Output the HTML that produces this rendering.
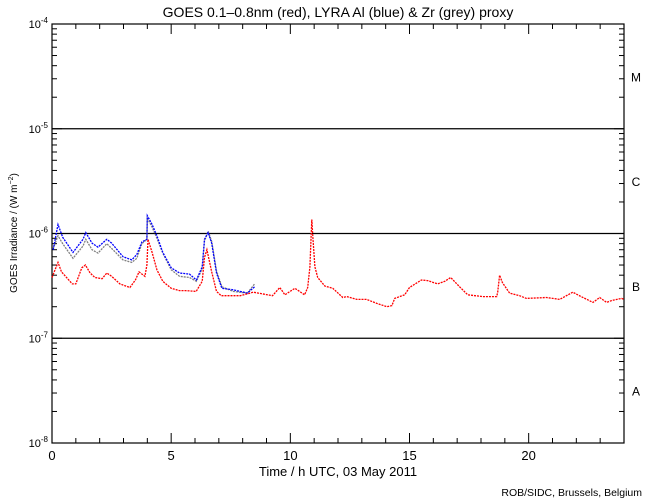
<!DOCTYPE html>
<html><head><meta charset="utf-8"><style>
body{margin:0;background:#fff}
svg{display:block;font-family:"Liberation Sans",sans-serif}
</style></head><body>
<svg id="c" width="650" height="500" viewBox="0 0 650 500">
<rect width="650" height="500" fill="#fff"/>
<text x="338" y="17" font-size="14" text-anchor="middle">GOES 0.1–0.8nm (red), LYRA Al (blue) &amp; Zr (grey) proxy</text>
<g id="axes"></g>
<g id="series"></g>
<text transform="translate(17,233) rotate(-90)" font-size="10" text-anchor="middle">GOES Irradiance / (W m<tspan dy="-4" font-size="7">−2</tspan><tspan dy="4">)</tspan></text>
<text x="338" y="476" font-size="13" text-anchor="middle">Time / h UTC, 03 May 2011</text>
<text x="642" y="496" font-size="10.5" text-anchor="end">ROB/SIDC, Brussels, Belgium</text>
</svg>
<script>
const goesT=[0,0.25,0.4,0.85,1.0,1.25,1.4,1.6,1.8,2.1,2.3,2.5,2.85,3.27,3.5,3.65,3.9,3.98,4.03,4.2,4.4,4.65,5.0,5.35,5.6,6.05,6.3,6.4,6.5,6.7,6.9,7.1,7.9,8.45,9.25,9.56,9.77,10.19,10.6,10.73,10.82,10.9,10.95,11.03,11.15,11.45,11.78,12.2,12.37,12.79,13.2,13.63,14.05,14.26,14.38,14.8,15.0,15.5,15.76,16.18,16.48,16.73,17.1,17.44,18.07,18.66,18.7,18.78,18.9,19.2,19.62,19.9,20.75,21.3,21.85,22.2,22.7,22.98,23.27,23.5,23.9,24];
const goesV=[3.8e-7,5.3e-7,4.3e-7,3.3e-7,3.3e-7,4.7e-7,5.0e-7,4.2e-7,3.8e-7,3.7e-7,4.2e-7,3.9e-7,3.3e-7,3.05e-7,3.6e-7,4.3e-7,3.9e-7,5.0e-7,8.8e-7,6.6e-7,4.5e-7,3.5e-7,3.0e-7,2.85e-7,2.85e-7,2.8e-7,3.5e-7,5.9e-7,7.0e-7,4.3e-7,2.8e-7,2.55e-7,2.55e-7,2.75e-7,2.55e-7,3.05e-7,2.6e-7,3.0e-7,2.6e-7,3.05e-7,4.8e-7,1.36e-6,8.8e-7,4.8e-7,3.8e-7,3.15e-7,3.0e-7,2.45e-7,2.5e-7,2.35e-7,2.35e-7,2.15e-7,2.0e-7,2.05e-7,2.4e-7,2.6e-7,3.05e-7,3.6e-7,3.55e-7,3.3e-7,3.5e-7,3.8e-7,3.1e-7,2.6e-7,2.5e-7,2.5e-7,2.75e-7,4.0e-7,3.4e-7,2.7e-7,2.55e-7,2.4e-7,2.45e-7,2.35e-7,2.75e-7,2.5e-7,2.2e-7,2.45e-7,2.2e-7,2.3e-7,2.4e-7,2.35e-7];
const lyraT=[0.05,0.25,0.45,0.88,1.3,1.42,1.68,1.93,2.3,2.5,2.98,3.35,3.56,3.77,3.98,4.0,4.2,4.4,4.65,5.0,5.35,5.77,6.06,6.3,6.4,6.55,6.7,6.9,7.13,7.6,8.2,8.5];
const alV=[7.0e-7,1.22e-6,9.2e-7,6.6e-7,8.8e-7,1.02e-6,8.1e-7,7.4e-7,8.8e-7,8.1e-7,6.0e-7,5.6e-7,6.3e-7,8.3e-7,8.8e-7,1.48e-6,1.22e-6,9.5e-7,6.6e-7,4.7e-7,4.2e-7,4.1e-7,3.6e-7,4.8e-7,8.8e-7,1.02e-6,8.1e-7,4.2e-7,3.0e-7,2.9e-7,2.7e-7,3.1e-7];
const zrV=[7.2e-7,9.5e-7,8.0e-7,5.8e-7,7.6e-7,8.8e-7,7.0e-7,6.5e-7,8.0e-7,7.2e-7,5.6e-7,5.3e-7,5.8e-7,8.0e-7,8.8e-7,1.4e-6,1.15e-6,9.0e-7,6.5e-7,4.5e-7,3.9e-7,3.8e-7,3.5e-7,4.6e-7,8.5e-7,1.05e-6,8.4e-7,4.4e-7,3.1e-7,2.8e-7,2.7e-7,3.3e-7];
const xTicks=[0,5,10,15,20];
const yExps=[-4,-5,-6,-7,-8];
const classes=["M","C","B","A"];

const L=52,R=624,T=24,B=443;
const xs=t=>L+(R-L)*t/24;
const ys=v=>T+(-4-Math.log10(v))*(B-T)/4;
const NS="http://www.w3.org/2000/svg";
function mk(tag,attrs,parent){const e=document.createElementNS(NS,tag);for(const k in attrs)e.setAttribute(k,attrs[k]);parent.appendChild(e);return e;}
const ax=document.getElementById('axes'),se=document.getElementById('series');
let e=mk('rect',{x:L,y:T,width:R-L,height:B-T,fill:'none',stroke:'#000','stroke-width':1.2},ax);


yExps.forEach(p=>{
  const y=ys(Math.pow(10,p));
  if(p<-4&&p>-8){const g=mk('line',{x1:L,x2:R,y1:y,y2:y,stroke:'#000','stroke-width':1.2},ax);
  
  }
  const t=mk('text',{x:L-4,y:y+4,'font-size':11,'text-anchor':'end'},ax);
  
  
  t.innerHTML='10<tspan dy="-5" font-size="8">'+p+'</tspan>';
});
for(let p=-8;p<-4;p++){for(let m=1;m<10;m++){const y=ys(m*Math.pow(10,p));const len=m===1?10:5;
  mk('line',{x1:L,x2:L+len,y1:y,y2:y,stroke:'#000'},ax);mk('line',{x1:R,x2:R-len,y1:y,y2:y,stroke:'#000'},ax);}}
for(let h=0;h<=24;h++){const x=xs(h);const len=h%5===0?10:5;
  mk('line',{x1:x,x2:x,y1:B,y2:B-len,stroke:'#000'},ax);mk('line',{x1:x,x2:x,y1:T,y2:T+len,stroke:'#000'},ax);}
xTicks.forEach(h=>{const t=mk('text',{x:xs(h),y:460,'font-size':13,'text-anchor':'middle'},ax);
  
  
  t.textContent=h;});
classes.forEach((c,i)=>{const y=(ys(Math.pow(10,-4-i))+ys(Math.pow(10,-5-i)))/2;
  const t=mk('text',{x:636,y:y+5,'font-size':12,'text-anchor':'middle'},ax);
  
  
  t.textContent=c;});
function series(T_,V,color,name){
  const pts=T_.map((t,i)=>xs(t).toFixed(1)+','+ys(V[i]).toFixed(1)).join(' ');
  const p=mk('polyline',{points:pts,fill:'none',stroke:color,'stroke-width':1.3,'stroke-dasharray':'2 1'},se);
  
  
}
series(lyraT,zrV,'#808080','zr-proxy-series');
series(lyraT,alV,'#0000ff','al-proxy-series');
series(goesT,goesV,'#ff0000','goes-series');
</script>
</body></html>
